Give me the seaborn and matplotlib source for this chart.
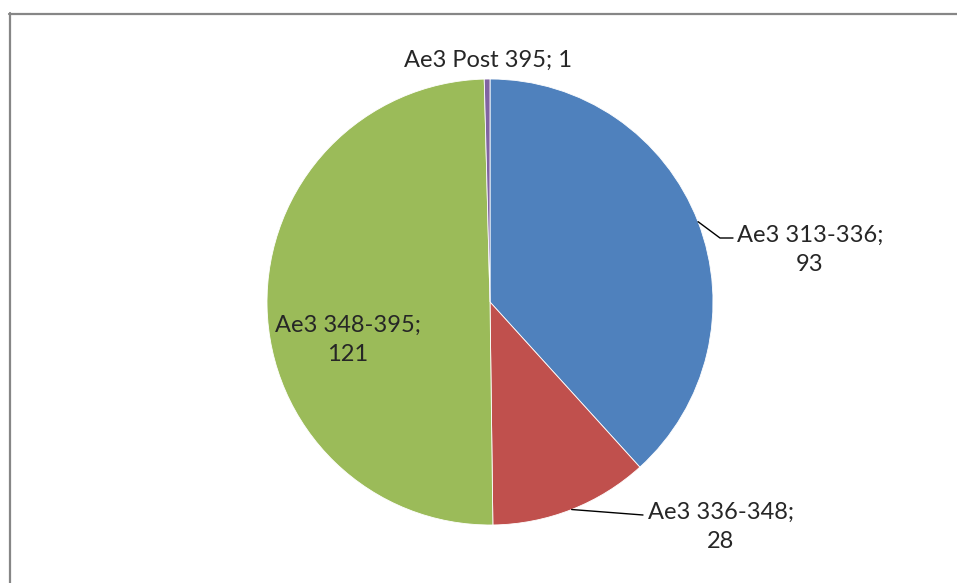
import numpy as np
import matplotlib
matplotlib.use('Agg')
import matplotlib.pyplot as plt
import seaborn as sns
from matplotlib.lines import Line2D

# Data
labels = ['Ae3 313-336', 'Ae3 336-348', 'Ae3 348-395', 'Ae3 Post 395']
values = [93, 28, 121, 1]
colors = ['#4F81BD', '#C0504D', '#9BBB59', '#8064A2']

sns.set_theme(style='white')
plt.rcParams['font.family'] = ['Lato', 'DejaVu Sans']

W, H = 957, 583
fig = plt.figure(figsize=(W / 100, H / 100), dpi=100)
ax = fig.add_axes([0, 0, 1, 1])
ax.set_xlim(0, W)
ax.set_ylim(0, H)
ax.set_aspect('equal')
ax.axis('off')

cx, cy, r = 490, H - 302, 223
wedges, _ = ax.pie(values, colors=colors, startangle=90, counterclock=False,
                   center=(cx, cy), radius=r, frame=True,
                   wedgeprops=dict(linewidth=0.6, edgecolor='white'))
ax.set_xlim(0, W)
ax.set_ylim(0, H)
ax.axis('off')

def edge_point(w):
    ang = np.deg2rad((w.theta1 + w.theta2) / 2)
    return cx + r * np.cos(ang), cy + r * np.sin(ang)

fs = 17
# blue label with elbow leader
x0, y0 = edge_point(wedges[0])
ax.plot([x0, 720, 733], [y0, H - 238, H - 238], color='black', lw=1)
ax.text(810, H - 250, f'{labels[0]};\n{values[0]}', ha='center', va='center',
        fontsize=fs, linespacing=1.45)

# red label with leader
x1, y1 = edge_point(wedges[1])
ax.plot([x1, 643], [y1, H - 515], color='black', lw=1)
ax.text(721, H - 527, f'{labels[1]};\n{values[1]}', ha='center', va='center',
        fontsize=fs, linespacing=1.45)

# green label inside slice
ax.text(348, H - 340, f'{labels[2]};\n{values[2]}', ha='center', va='center',
        fontsize=fs, linespacing=1.45)

# purple label above
ax.text(488, H - 60, f'{labels[3]}; {values[3]}', ha='center', va='center',
        fontsize=fs)

# chart border (top and left visible)
fig.add_artist(Line2D([9 / W, 1], [1 - 14 / H, 1 - 14 / H], color='#868686', lw=1.6,
                      transform=fig.transFigure))
fig.add_artist(Line2D([10 / W, 10 / W], [0, 1 - 13 / H], color='#868686', lw=1.6,
                      transform=fig.transFigure))

fig.savefig('out.png', dpi=100, facecolor='white')
